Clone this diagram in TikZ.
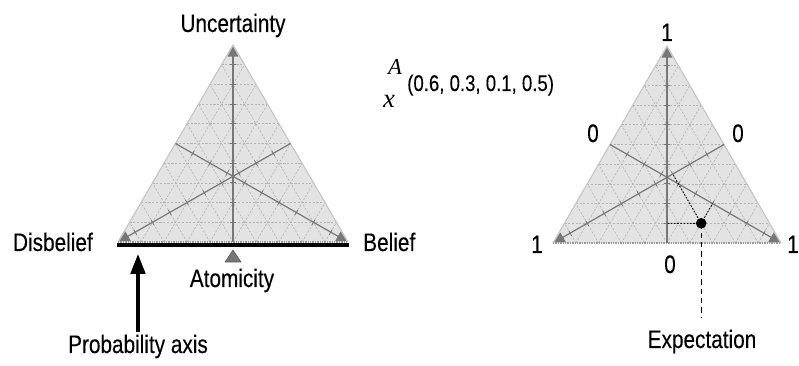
\documentclass[tikz,border=0pt]{standalone}
\usepackage{fontspec}
\setmainfont{Liberation Sans}[FakeStretch=0.82,FakeBold=0.15]
\newfontfamily\tmsfont{Liberation Serif}
\usetikzlibrary{arrows.meta,calc}
\definecolor{trifill}{HTML}{E3E3E3}
\definecolor{gridcol}{HTML}{B4B4B4}
\definecolor{edgecol}{HTML}{C4C4C4}
\definecolor{axiscol}{HTML}{777777}
\definecolor{basecol}{HTML}{9A9A9A}
\tikzset{
  gridline/.style={draw=gridcol,line width=0.5pt,dash pattern=on 1.6pt off 1.2pt},
  edgeline/.style={draw=edgecol,line width=0.8pt},
  baseedge/.style={draw=basecol,line width=1pt,dash pattern=on 1pt off 0.8pt},
  axisline/.style={draw=axiscol,line width=0.9pt,-{Triangle[length=7.5pt,width=8pt,fill=axiscol]},shorten >=1.2pt},
  tickline/.style={draw=axiscol,line width=0.6pt},
  lbl/.style={font=\fontsize{19}{21}\selectfont,inner sep=0pt},
  projline/.style={draw=black,line width=0.7pt,dash pattern=on 1.2pt off 1.2pt},
}
\newcommand\opTri[1]{%
  \fill[trifill] (#1D) -- (#1B) -- (#1U) -- cycle;
  \foreach \i in {1,...,9}{
    \draw[gridline] ($(#1D)!\i/10!(#1U)$) -- ($(#1B)!\i/10!(#1U)$);
    \draw[gridline] ($(#1D)!\i/10!(#1B)$) -- ($(#1U)!\i/10!(#1B)$);
    \draw[gridline] ($(#1B)!\i/10!(#1D)$) -- ($(#1U)!\i/10!(#1D)$);
  }
  \draw[edgeline] (#1D) -- (#1U) -- (#1B);
  \draw[baseedge] (#1D) -- (#1B);
  \coordinate (#1MU) at ($(#1D)!.5!(#1B)$);
  \coordinate (#1MB) at ($(#1D)!.5!(#1U)$);
  \coordinate (#1MD) at ($(#1B)!.5!(#1U)$);
  \foreach \i in {1,...,9}{
    \draw[tickline] ($($(#1MU)!\i/10!(#1U)$)!2.2pt!90:(#1U)$) -- ($($(#1MU)!\i/10!(#1U)$)!2.2pt!-90:(#1U)$);
    \draw[tickline] ($($(#1MB)!\i/10!(#1B)$)!2.2pt!90:(#1B)$) -- ($($(#1MB)!\i/10!(#1B)$)!2.2pt!-90:(#1B)$);
    \draw[tickline] ($($(#1MD)!\i/10!(#1D)$)!2.2pt!90:(#1D)$) -- ($($(#1MD)!\i/10!(#1D)$)!2.2pt!-90:(#1D)$);
  }
  \draw[axisline] (#1MU) -- (#1U);
  \draw[axisline] (#1MB) -- (#1B);
  \draw[axisline] (#1MD) -- (#1D);
}
\begin{document}
\begin{tikzpicture}[x=0.75pt,y=-0.75pt]
\useasboundingbox (0,0) rectangle (799,366);
% left triangle
\coordinate (lD) at (118,242);
\coordinate (lB) at (348,242);
\coordinate (lU) at (233,45);
\opTri{l}
\coordinate (pa1) at (117,245);
\coordinate (pa2) at (349,245);
\draw[black,line width=2.3pt] (pa1) -- (pa2);
\fill[axiscol,draw=axiscol!70!black,line width=0.4pt] (233,250) -- (241,262) -- (225,262) -- cycle;
\node[lbl,anchor=base] (unc) at (233,32) {Uncertainty};
\node[lbl,anchor=base east] (dis) at (93,251) {Disbelief};
\node[lbl,anchor=base west] (bel) at (363,251) {Belief};
\node[lbl,anchor=base] (atom) at (232,287) {Atomicity};
\node[lbl,anchor=base] (prob) at (138,353) {Probability axis};
\coordinate (pt) at (138,254);
\coordinate (pbot) at (138,332);
\draw[black,line width=2.3pt,-{Triangle[length=15pt,width=11pt]}] (pbot) -- (pt);
% label A_x
\node[inner sep=0pt,anchor=base,font=\tmsfont\itshape\fontsize{17}{19}\selectfont] (na) at (395,75) {A};
\node[inner sep=0pt,anchor=base,font=\tmsfont\itshape\fontsize{20}{22}\selectfont] (nx) at (389,108) {x};
\node[inner sep=0pt,anchor=base west,font=\fontsize{17}{19}\selectfont] (nsub) at (407,91) {(0.6, 0.3, 0.1, 0.5)};
% right triangle
\coordinate (rD) at (553,243);
\coordinate (rB) at (781,243);
\coordinate (rU) at (667,46);
\opTri{r}
\coordinate (op) at ($0.6*(rB)+0.3*(rD)+0.1*(rU)$);
\coordinate (pu) at ($0.45*(rB)+0.45*(rD)+0.1*(rU)$);
\coordinate (pd) at ($0.35*(rB)+0.3*(rD)+0.35*(rU)$);
\coordinate (pb) at ($0.6*(rB)+0.2*(rD)+0.2*(rU)$);
\draw[projline] (op) -- (pu);
\draw[projline] (op) -- (pd);
\draw[projline] (op) -- (pb);
\node[lbl,anchor=base] (exp) at (702,348) {Expectation};
\coordinate (ee) at (op |- 0,318);
\draw[black,line width=0.7pt,dash pattern=on 4pt off 3pt] (op) -- (ee);
\node[circle,fill=black,inner sep=0pt,minimum size=8pt] (dot) at (op) {};
\node[lbl,anchor=base] (r1t) at (667,41) {1};
\node[lbl,anchor=base] (r0l) at (593,142) {0};
\node[lbl,anchor=base] (r0r) at (738,142) {0};
\node[lbl,anchor=base] (r1l) at (537,253) {1};
\node[lbl,anchor=base] (r1r) at (793,253) {1};
\node[lbl,anchor=base] (r0b) at (670,273) {0};
\end{tikzpicture}
\end{document}
